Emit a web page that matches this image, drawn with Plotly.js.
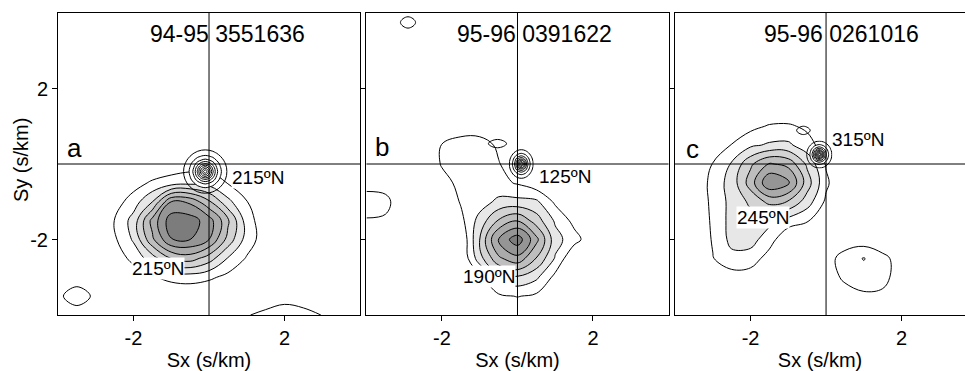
<!DOCTYPE html>
<html><head><meta charset="utf-8">
<script src="https://cdn.plot.ly/plotly-3.0.1.min.js"></script>
<style>html,body{margin:0;padding:0;background:#fff}#chart{width:965px;height:371px}</style>
</head><body><div id="chart"></div>
<script>
// ---- grid of the slowness maps (s/km) ----
const gridX = [-4,-3.5,-3,-2.5,-2,-1.5,-1,-0.5,0,0.5,1,1.5,2,2.5,3,3.5,4];
const gridY = [-4,-3.5,-3,-2.5,-2,-1.5,-1,-0.5,0,0.5,1,1.5,2,2.5,3,3.5,4];

// ---- panel a: main energy field (rows from Sy=-4 to Sy=4) ----
const zA = [
 [0,0,0,0,0,0,0,0,0,0,0.9,1.4,1.9,1.6,0.95,0,0],
 [0.6,2.0,0.6,0,0,0,0,0.1,0,0,0,0,0.3,0,0,0,0],
 [0,0,0,0,0.36,0.9,1.35,1.47,1.2,0.71,0.1,0,0,0,0,0,0],
 [0,0,0,0.41,1.3,2.54,4.04,4.46,3.5,1.93,0.9,0.06,0,0,0,0,0],
 [0,0,0,0.84,2.14,4.8,6.95,7.0,6.0,3.66,1.55,0.45,0,0,0,0,0],
 [0,0,0,1.02,2.4,5.35,7.6,7.5,6.5,4.2,1.5,0.3,0,0,0,0,0],
 [0,0,0,0.52,1.5,2.99,6.0,5.8,4.17,2.28,1.04,0.16,0,0,0,0,0],
 [0,0,0,0,0.55,1.17,1.5,1.7,1.6,0.95,0.28,0,0,0,0,0,0],
 [0,0,0,0,0,0,0.3,0.5,0.6,0,0,0,0,0,0,0,0],
 [0,0,0,0,0,0,0,0,0,0,0,0,0,0,0,0,0],
 [0,0,0,0,0,0,0,0,0,0,0,0,0,0,0,0,0],
 [0,0,0,0,0,0,0,0,0,0,0,0,0,0,0,0,0],
 [0,0,0,0,0,0,0,0,0,0,0,0,0,0,0,0,0],
 [0,0,0,0,0,0,0,0,0,0,0,0,0,0,0,0,0],
 [0,0,0,0,0,0,0,0,0,0,0,0,0,0,0,0,0],
 [0,0,0,0,0,0,0,0,0,0,0,0,0,0,0,0,0],
 [0,0,0,0,0,0,0,0,0,0,0,0,0,0,0,0,0]
];
// ---- panel b: main energy field ----
const zB = [
 [0,0,0,0,0,0,0,0,0,0,0,0,0,0,0,0,0],
 [0,0,0,0,0,0,0,0.8,1.05,0.8,0,0,0,0,0,0,0],
 [0,0,0,0,0,0,0.7,2.5,2.85,2.2,0.7,0,0,0,0,0,0],
 [0,0,0,0,0,0,2.6,4.8,5.7,3.95,1.9,0,0,0,0,0,0],
 [0,0,0,0,0,0,3.05,6.2,7.6,5.3,2.4,1.4,0.3,0,0,0,0],
 [0.9,0.8,0,0,0,0.7,2.4,4.1,4.95,3.5,1.85,0.7,0,0,0,0,0],
 [1.6,1.4,0,0,0,1.1,1.5,2.25,2.3,2.2,0.8,0,0,0,0,0,0],
 [0.5,0.4,0,0,0.6,1.3,1.4,1.3,0.9,0.3,0,0,0,0,0,0,0],
 [0,0,0,0,1.1,1.5,1.5,1.05,0.5,0,0,0,0,0,0,0,0],
 [0,0,0,0,1.05,1.4,1.4,0.85,0,0,0,0,0,0,0,0,0],
 [0,0,0,0,0.2,0.5,0.5,0,0,0,0,0,0,0,0,0,0],
 [0,0,0,0,0,0,0,0,0,0,0,0,0,0,0,0,0],
 [0,0,0,0,0,0,0,0,0,0,0,0,0,0,0,0,0],
 [0,0,0,0,0,0,0,0,0,0,0,0,0,0,0,0,0],
 [0,0,0,0,0,0,0,0,0,0,0,0,0,0,0,0,0],
 [0,0,0,0,0,0,0,0,0,0,0,0,0,0,0,0,0],
 [0,0,0,0,0,0,0,0,0,0,0,0,0,0,0,0,0]
];
// ---- panel c: main energy field ----
const zC = [
 [0,0,0,0,0,0,0,0,0,0,0,0,0,0,0,0,0],
 [0,0,0,0,0,0,0,0,0,0.3,0.8,0.8,0,0,0,0,0],
 [0,0,0.2,0.5,0.4,0,0,0,0.2,1.3,1.6,1.3,0.5,0,0,0,0],
 [0,0,0.95,1.7,1.6,0.5,0,0,0.5,1.5,2.05,1.3,0.5,0,0,0,0],
 [0,0,1.1,2.3,2.35,1.5,0,0,0,0.3,0.4,0.2,0,0,0,0,0],
 [0,0,1.2,2.35,2.6,2.25,1.6,1.1,0,0,0,0,0,0,0,0,0],
 [0,0,1.3,2.3,3.2,4.3,3.95,2.5,0.8,0,0,0,0,0,0,0,0],
 [0,0,1.4,2.4,4.5,6.9,6.2,3.5,1.2,0,0,0,0,0,0,0,0],
 [0,0,1.05,2.1,3.8,5.1,4.7,2.8,0.9,0,0,0,0,0,0,0,0],
 [0,0,0,1.05,1.8,2.15,2.2,1.4,0.5,0,0,0,0,0,0,0,0],
 [0,0,0,0.3,0.7,1.1,1.15,0.8,0,0,0,0,0,0,0,0,0],
 [0,0,0,0,0,0,0,0,0,0,0,0,0,0,0,0,0],
 [0,0,0,0,0,0,0,0,0,0,0,0,0,0,0,0,0],
 [0,0,0,0,0,0,0,0,0,0,0,0,0,0,0,0,0],
 [0,0,0,0,0,0,0,0,0,0,0,0,0,0,0,0,0],
 [0,0,0,0,0,0,0,0,0,0,0,0,0,0,0,0,0],
 [0,0,0,0,0,0,0,0,0,0,0,0,0,0,0,0,0]
];

// ---- sharp near-vertical arrivals (local grids) ----
const peakAx = [-0.7,-0.6,-0.5,-0.4,-0.3,-0.2,-0.1,0,0.1,0.2,0.3,0.4,0.5];
const peakAy = [-0.8,-0.7,-0.6,-0.5,-0.4,-0.3,-0.2,-0.1,0,0.1,0.2,0.3,0.4];
const peakAz = [
 [0,0,0.16,0.44,0.65,0.79,0.83,0.79,0.65,0.44,0.16,0,0],
 [0,0.24,0.61,0.93,1.21,1.4,1.47,1.4,1.21,0.93,0.61,0.24,0],
 [0.16,0.61,1.03,1.47,1.82,2.08,2.2,2.08,1.82,1.47,1.03,0.61,0.16],
 [0.44,0.93,1.47,1.97,2.59,3.06,3.33,3.06,2.59,1.97,1.47,0.93,0.44],
 [0.65,1.21,1.82,2.59,3.62,4.73,5.25,4.73,3.62,2.59,1.82,1.21,0.65],
 [0.79,1.4,2.08,3.06,4.73,6.71,7.75,6.71,4.73,3.06,2.08,1.4,0.79],
 [0.83,1.47,2.2,3.33,5.25,7.75,10,7.75,5.25,3.33,2.2,1.47,0.83],
 [0.79,1.4,2.08,3.06,4.73,6.71,7.75,6.71,4.73,3.06,2.08,1.4,0.79],
 [0.65,1.21,1.82,2.59,3.62,4.73,5.25,4.73,3.62,2.59,1.82,1.21,0.65],
 [0.44,0.93,1.47,1.97,2.59,3.06,3.33,3.06,2.59,1.97,1.47,0.93,0.44],
 [0.16,0.61,1.03,1.47,1.82,2.08,2.2,2.08,1.82,1.47,1.03,0.61,0.16],
 [0,0.24,0.61,0.93,1.21,1.4,1.47,1.4,1.21,0.93,0.61,0.24,0],
 [0,0,0.16,0.44,0.65,0.79,0.83,0.79,0.65,0.44,0.16,0,0]
];
const peakBx = [-0.23,-0.175,-0.12,-0.065,-0.01,0.045,0.1,0.155,0.21,0.265,0.32,0.375,0.43];
const peakBy = [-0.396,-0.33,-0.264,-0.198,-0.132,-0.066,0,0.066,0.132,0.198,0.264,0.33,0.396];
const peakBz = [
 [0,0,0.16,0.44,0.65,0.79,0.83,0.79,0.65,0.44,0.16,0,0],
 [0,0.24,0.61,0.93,1.21,1.4,1.47,1.4,1.21,0.93,0.61,0.24,0],
 [0.16,0.61,1.03,1.47,1.82,2.08,2.2,2.08,1.82,1.47,1.03,0.61,0.16],
 [0.44,0.93,1.47,1.97,2.59,3.06,3.3,3.06,2.59,1.97,1.47,0.93,0.44],
 [0.65,1.21,1.82,2.59,3.55,4.5,5.0,4.5,3.55,2.59,1.82,1.21,0.65],
 [0.79,1.4,2.08,3.0,4.5,6.3,7.3,6.3,4.5,3.0,2.08,1.4,0.79],
 [0.83,1.47,2.2,3.3,5.0,7.3,9.3,7.3,5.0,3.3,2.2,1.47,0.83],
 [0.79,1.4,2.08,3.0,4.5,6.3,7.3,6.3,4.5,3.0,2.08,1.4,0.79],
 [0.65,1.21,1.82,2.59,3.55,4.5,5.0,4.5,3.55,2.59,1.82,1.21,0.65],
 [0.44,0.93,1.47,1.97,2.59,3.06,3.3,3.06,2.59,1.97,1.47,0.93,0.44],
 [0.16,0.61,1.03,1.47,1.82,2.08,2.2,2.08,1.82,1.47,1.03,0.61,0.16],
 [0,0.24,0.61,0.93,1.21,1.4,1.47,1.4,1.21,0.93,0.61,0.24,0],
 [0,0,0.16,0.44,0.65,0.79,0.83,0.79,0.65,0.44,0.16,0,0]
];
const peakCx = [-0.528,-0.47,-0.412,-0.354,-0.296,-0.238,-0.18,-0.122,-0.064,-0.006,0.052,0.11,0.168];
const peakCy = [-0.122,-0.06,0.002,0.064,0.126,0.188,0.25,0.312,0.374,0.436,0.498,0.56,0.622];
const peakCz = [
 [0,0,0.16,0.44,0.65,0.79,0.83,0.79,0.65,0.44,0.16,0,0],
 [0,0.24,0.61,0.93,1.21,1.4,1.47,1.4,1.21,0.93,0.61,0.24,0],
 [0.16,0.61,1.03,1.47,1.82,2.08,2.2,2.08,1.82,1.47,1.03,0.61,0.16],
 [0.44,0.93,1.47,1.97,2.59,3.06,3.33,3.06,2.59,1.97,1.47,0.93,0.44],
 [0.65,1.21,1.82,2.59,3.62,4.73,5.25,4.73,3.62,2.59,1.82,1.21,0.65],
 [0.79,1.4,2.08,3.06,4.73,6.71,7.8,6.71,4.73,3.06,2.08,1.4,0.79],
 [0.83,1.47,2.2,3.33,5.25,7.8,10.2,7.8,5.25,3.33,2.2,1.47,0.83],
 [0.79,1.4,2.08,3.06,4.73,6.71,7.8,6.71,4.73,3.06,2.08,1.4,0.79],
 [0.65,1.21,1.82,2.59,3.62,4.73,5.25,4.73,3.62,2.59,1.82,1.21,0.65],
 [0.44,0.93,1.47,1.97,2.59,3.06,3.33,3.06,2.59,1.97,1.47,0.93,0.44],
 [0.16,0.61,1.03,1.47,1.82,2.08,2.2,2.08,1.82,1.47,1.03,0.61,0.16],
 [0,0.24,0.61,0.93,1.21,1.4,1.47,1.4,1.21,0.93,0.61,0.24,0],
 [0,0,0.16,0.44,0.65,0.79,0.83,0.79,0.65,0.44,0.16,0,0]
];

// ---- small isolated lowest-level closures (local grids) ----
const islandB1x = [-3.2,-2.9,-2.6];
const islandB1y = [3.525,3.75,3.975];
const islandB1z = [[0,0,0],[0,3,0],[0,0,0]];
const islandB2x = [-0.89,-0.53,-0.17];
const islandB2y = [0.375,0.54,0.705];
const islandB2z = [[0,0,0],[0,3,0],[0,0,0]];
const islandC1x = [-0.87,-0.6,-0.33];
const islandC1y = [0.725,0.89,1.055];
const islandC1z = [[0,0,0],[0,3,0],[0,0,0]];

// ---- texts ----
const panelTitles = ['94-95 3551636', '95-96 0391622', '95-96 0261016'];
const panelLetters = ['a', 'b', 'c'];
const peakLabels = ['215ºN', '125ºN', '315ºN'];
const mainLabels = ['215ºN', '190ºN', '245ºN'];
const tickVals = [-2, 2];
const tickText = ['-2', '2'];
const xTitle = 'Sx (s/km)';
const yTitle = 'Sy (s/km)';

// ---- styling ----
const F = 'Liberation Sans, Arial, sans-serif';
const T = 'rgba(255,255,255,0)';
const mainScale = [[0,T],[0.09,T],[0.15,'#ffffff'],
  [0.2,'#e7e7e7'],[0.29,'#e7e7e7'],[0.35,'#d3d3d3'],[0.43,'#d3d3d3'],
  [0.49,'#bebebe'],[0.575,'#bebebe'],[0.635,'#aaaaaa'],[0.72,'#aaaaaa'],
  [0.78,'#959595'],[0.86,'#959595'],[0.92,'#7c7c7c'],[1,'#7c7c7c']];
const peakScale = [[0,T],[0.12,T],[0.16,'#ffffff'],[1,'#ffffff']];

function mainTrace(z, sfx) {
  return {type:'contour', x:gridX, y:gridY, z:z, xaxis:'x'+sfx, yaxis:'y'+sfx,
    contours:{start:1, end:7, size:1, coloring:'fill', showlines:true},
    colorscale:mainScale, showscale:false, hoverinfo:'skip',
    line:{color:'#000', width:1, smoothing:1.1}};
}
function peakTrace(x, y, z, sfx) {
  return {type:'contour', x:x, y:y, z:z, xaxis:'x'+sfx, yaxis:'y'+sfx,
    contours:{start:1, end:9, size:1, coloring:'fill', showlines:true},
    colorscale:peakScale, showscale:false, hoverinfo:'skip',
    line:{color:'#000', width:1, smoothing:1}};
}
function islandTrace(x, y, z, sfx) {
  return {type:'contour', x:x, y:y, z:z, xaxis:'x'+sfx, yaxis:'y'+sfx,
    contours:{start:1, end:1, size:1, coloring:'none', showlines:true},
    showscale:false, hoverinfo:'skip', line:{color:'#000', width:1, smoothing:1.3}};
}
const data = [
  mainTrace(zA, ''), peakTrace(peakAx, peakAy, peakAz, ''),
  mainTrace(zB, '2'), peakTrace(peakBx, peakBy, peakBz, '2'),
  islandTrace(islandB1x, islandB1y, islandB1z, '2'), islandTrace(islandB2x, islandB2y, islandB2z, '2'),
  mainTrace(zC, '3'), peakTrace(peakCx, peakCy, peakCz, '3'),
  islandTrace(islandC1x, islandC1y, islandC1z, '3')
];

const axBase = {showgrid:false, zeroline:false, showline:true, linecolor:'#000', linewidth:1,
  ticks:'outside', ticklen:5, tickcolor:'#000', tickwidth:1, layer:'above traces',
  tickvals:tickVals, ticktext:tickText, tickfont:{family:F, size:20, color:'#000'}};
const xDomains = [[0, 0.3330], [0.3401, 0.6731], [0.6803, 1]];
const xRanges = [[-4,4], [-4,4], [-4,3.68]];
const layout = {width:965, height:371, margin:{l:58, r:0, t:13, b:56},
  paper_bgcolor:'#fff', plot_bgcolor:'#fff', showlegend:false,
  font:{family:F, color:'#000'}, shapes:[], annotations:[]};
const sfxs = ['', '2', '3'];
const titlePos = [[0.48,3.44],[0.44,3.44],[0.40,3.44]];
const letterPos = [[-3.55,0.42],[-3.59,0.45],[-3.55,0.39]];
const peakPos = [[1.30,-0.36],[1.25,-0.33],[0.85,0.66]];
const mainPos = [[-1.35,-2.77],[-0.75,-2.98],[-1.67,-1.42]];
sfxs.forEach((s, i) => {
  layout['xaxis'+s] = Object.assign({}, axBase, {domain:xDomains[i], range:xRanges[i], mirror:true,
    anchor:'y'+s, title:{text:xTitle, font:{family:F, size:20, color:'#000'}, standoff:4}});
  layout['yaxis'+s] = Object.assign({}, axBase, {domain:[0,1], range:[-4,4], mirror:(i<2),
    anchor:'x'+s, showticklabels:(i===0)});
  layout.shapes.push({type:'line', xref:'x'+s, yref:'y'+s+' domain', x0:0, x1:0, y0:0, y1:1,
    layer:'above', line:{color:'#000', width:1}});
  layout.shapes.push({type:'line', xref:'x'+s+' domain', yref:'y'+s, x0:0, x1:1, y0:0, y1:0,
    layer:'above', line:{color:'#000', width:1}});
  const ann = (txt, p, size, bg) => ({xref:'x'+s, yref:'y'+s, x:p[0], y:p[1], text:txt, showarrow:false,
    xanchor:'center', yanchor:'middle', font:{family:F, size:size, color:'#000'},
    bgcolor:bg || 'rgba(0,0,0,0)', borderpad:0});
  layout.annotations.push(ann(panelTitles[i], titlePos[i], 23));
  layout.annotations.push(ann(panelLetters[i], letterPos[i], 26));
  layout.annotations.push(ann(peakLabels[i], peakPos[i], 19, '#fff'));
  layout.annotations.push(ann(mainLabels[i], mainPos[i], 19, '#fff'));
});
// y-axis title of the first panel, placed beside its tick labels
layout.annotations.push({xref:'paper', yref:'paper', x:-0.0408, y:0.513, text:yTitle, textangle:-90,
  showarrow:false, xanchor:'center', yanchor:'middle', font:{family:F, size:20, color:'#000'}});
Plotly.newPlot('chart', data, layout, {staticPlot:true, displayModeBar:false});
</script>
</body></html>
